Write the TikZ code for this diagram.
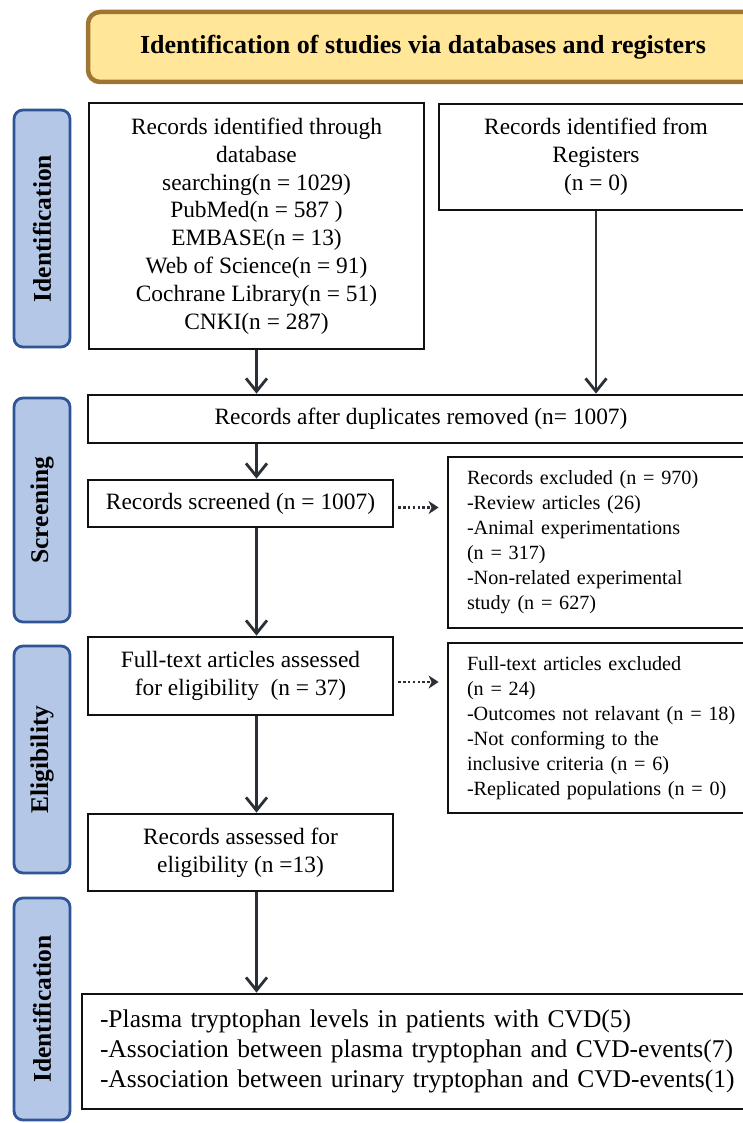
\documentclass[tikz,border=0pt]{standalone}
\usepackage{fontspec}
\setmainfont{Liberation Serif}
\usetikzlibrary{arrows.meta}
\definecolor{titlefill}{HTML}{FFE699}
\definecolor{titledraw}{HTML}{9E7531}
\definecolor{sidefill}{HTML}{B4C7E7}
\definecolor{sidedraw}{HTML}{2F5597}
\definecolor{arrowc}{HTML}{2B2F36}
\definecolor{boxdraw}{HTML}{111111}
\begin{document}
\begin{tikzpicture}[x=1pt,y=-1pt,
  box/.style={draw=boxdraw, line width=2.8pt, fill=white, inner sep=0pt, align=center,
    font=\fontsize{23.4pt}{27.8pt}\selectfont},
  sidebox/.style={draw=boxdraw, line width=2.8pt, fill=white, inner ysep=0pt, inner xsep=19pt,
    align=left, text width=269pt, font=\fontsize{20.2pt}{25pt}\selectfont},
  lane/.style={draw=sidedraw, fill=sidefill, line width=2.8pt, rounded corners=9pt,
    minimum height=56pt, inner sep=0pt, rotate=90,
    font=\bfseries\fontsize{25.5pt}{30pt}\selectfont},
  headbox/.style={draw=titledraw, fill=titlefill, line width=4.5pt, rounded corners=12pt,
    inner sep=0pt, font=\bfseries\fontsize{26pt}{31pt}\selectfont},
  arr/.style={draw=arrowc, line width=2.8pt, -{Straight Barb[length=13pt,width=21pt]}},
  dotarr/.style={draw=arrowc, line width=2.6pt, dash pattern=on 2.4pt off 2.4pt,
    -{Stealth[length=10pt,width=13pt,inset=3pt]}}
]
\useasboundingbox (0,0) rectangle (743,1123);
\clip (0,0) rectangle (743,1123);
\fill[white] (0,0) rectangle (743,1123);

% title
\node[headbox, minimum width=670pt, minimum height=70pt] (title) at (423,47)
  {Identification of studies via databases and registers};

% lanes
\node[lane, minimum width=237pt] (s1) at (42,228.5) {Identification};
\node[lane, minimum width=224pt] (s2) at (42,510) {Screening};
\node[lane, minimum width=227pt] (s3) at (42,759.5) {Eligibility};
\node[lane, minimum width=222pt] (s4) at (42,1009) {Identification};

% boxes
\node[box, minimum width=335pt, minimum height=246pt] (b1) at (256.5,226)
  {Records identified through\\database\\searching(n = 1029)\\PubMed(n = 587 )\\EMBASE(n = 13)\\Web of Science(n = 91)\\Cochrane Library(n = 51)\\CNKI(n = 287)};
\node[box, minimum width=314pt, minimum height=106pt] (b2) at (596,157)
  {Records identified from\\Registers\\(n = 0)};
\node[box, minimum width=666pt, minimum height=48pt] (b3) at (421,419)
  {Records after duplicates removed (n= 1007)};
\node[box, minimum width=305pt, minimum height=47pt] (b4) at (240.5,503.5)
  {Records screened (n = 1007)};
\node[sidebox, minimum height=171pt] (b5) at (601.5,542.5)
  {\mbox{Records excluded (n = 970)}\\\mbox{-Review articles (26)}\\\mbox{-Animal experimentations}\\\mbox{(n = 317)}\\\mbox{-Non-related experimental}\\\mbox{study (n = 627)}};
\node[box, minimum width=305pt, minimum height=78pt] (b6) at (240.5,676)
  {Full-text articles assessed\\for eligibility\ \ (n = 37)};
\node[sidebox, minimum height=170pt] (b7) at (601.5,728)
  {\mbox{Full-text articles excluded}\\\mbox{(n = 24)}\\\mbox{-Outcomes not relavant (n = 18)}\\\mbox{-Not conforming to the}\\\mbox{inclusive criteria (n = 6)}\\\mbox{-Replicated populations (n = 0)}};
\node[box, minimum width=305pt, minimum height=77pt] (b8) at (240.5,852.5)
  {Records assessed for\\eligibility (n =13)};
\node[box, align=left, text width=637pt, inner xsep=18pt, minimum height=115pt,
  font=\fontsize{25.5pt}{30pt}\selectfont] (b9) at (418.5,1051.5)
  {\mbox{-Plasma tryptophan levels in patients with CVD(5)}\\\mbox{-Association between plasma tryptophan and CVD-events(7)}\\\mbox{-Association between urinary tryptophan and CVD-events(1)}};

% solid arrows
\draw[arr] (b1.south) -- (b1.south |- b3.north);
\draw[arr] (b2.south) -- (b2.south |- b3.north);
\draw[arr] (b1.south |- b3.south) -- (b1.south |- b4.north);
\draw[arr] (b1.south |- b4.south) -- (b1.south |- b6.north);
\draw[arr] (b1.south |- b6.south) -- (b1.south |- b8.north);
\draw[arr] (b1.south |- b8.south) -- (b1.south |- b9.north);

% dotted arrows
\coordinate (d1s) at ([xshift=4pt,yshift=-4pt]b4.east);
\path (b5.west |- d1s) coordinate (d1t);
\coordinate (d1e) at ([xshift=-8pt]d1t);
\draw[dotarr] (d1s) -- (d1e);
\coordinate (d2s) at ([xshift=4pt,yshift=-6pt]b6.east);
\path (b7.west |- d2s) coordinate (d2t);
\coordinate (d2e) at ([xshift=-8pt]d2t);
\draw[dotarr] (d2s) -- (d2e);
\end{tikzpicture}
\end{document}
